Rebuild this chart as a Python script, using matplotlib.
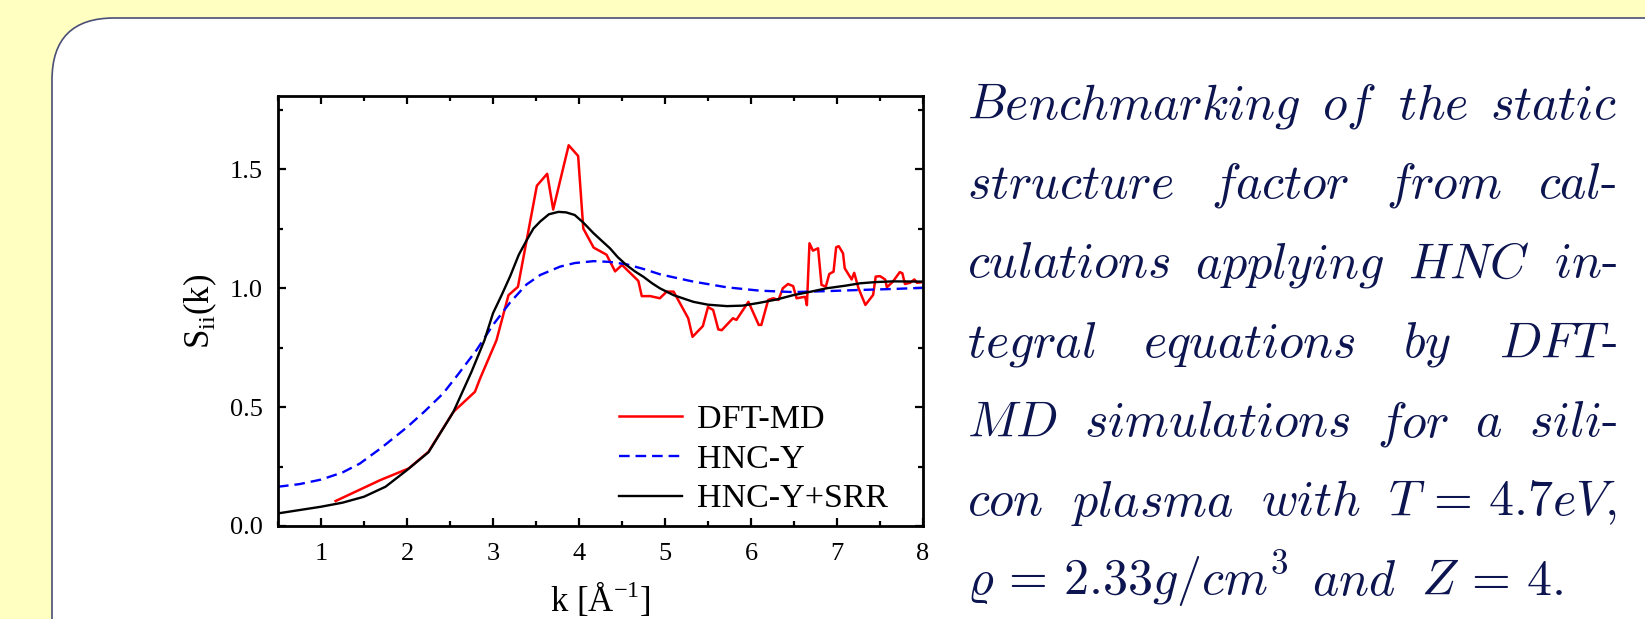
import matplotlib
matplotlib.use('Agg')
import matplotlib.pyplot as plt
from matplotlib.patches import FancyBboxPatch
from matplotlib.transforms import IdentityTransform
from matplotlib.ticker import MultipleLocator, FormatStrFormatter

plt.rcParams['font.family'] = 'Liberation Serif'
plt.rcParams['mathtext.fontset'] = 'custom'
plt.rcParams['mathtext.rm'] = 'Liberation Serif'
plt.rcParams['mathtext.default'] = 'it'

# DFT-MD (red)
k_dft = [1.17, 1.69, 2.02, 2.25, 2.54, 2.79, 2.85, 3.04, 3.18, 3.29, 3.41, 3.51, 3.63, 3.70,
         3.88, 3.99, 4.05, 4.17, 4.32, 4.42, 4.50, 4.69, 4.73, 4.83, 4.94, 5.02, 5.10, 5.27,
         5.32, 5.44, 5.50, 5.56, 5.62, 5.66, 5.79, 5.83, 5.97, 6.09, 6.12, 6.20, 6.26, 6.32,
         6.37, 6.43, 6.49, 6.53, 6.59, 6.63, 6.65, 6.68, 6.72, 6.78, 6.82, 6.87, 6.91, 6.96,
         6.99, 7.02, 7.07, 7.09, 7.17, 7.20, 7.25, 7.33, 7.42, 7.45, 7.50, 7.56, 7.58, 7.65,
         7.73, 7.76, 7.79, 7.85, 7.90, 7.93, 8.00]
s_dft = [0.105, 0.193, 0.242, 0.312, 0.48, 0.564, 0.62, 0.78, 0.97, 1.005, 1.237, 1.43, 1.48, 1.33,
         1.60, 1.555, 1.25, 1.17, 1.14, 1.07, 1.097, 1.03, 0.966, 0.966, 0.957, 0.985, 0.985, 0.873,
         0.795, 0.84, 0.92, 0.908, 0.826, 0.823, 0.873, 0.866, 0.942, 0.845, 0.845, 0.95, 0.957, 0.95,
         0.999, 1.017, 1.008, 0.957, 0.961, 0.963, 0.928, 1.188, 1.157, 1.167, 1.013, 1.006, 1.059, 1.069,
         1.171, 1.176, 1.146, 1.083, 1.036, 1.064, 0.999, 0.929, 0.971, 1.048, 1.050, 1.036, 1.003, 1.027,
         1.067, 1.062, 1.017, 1.022, 1.036, 1.022, 1.025]

# HNC-Y (blue dashed)
k_hnc = [0.5, 0.75, 1.0, 1.25, 1.45, 1.7, 2.0, 2.2, 2.42, 2.6, 2.81, 3.0, 3.2, 3.39, 3.55,
         3.78, 3.95, 4.17, 4.35, 4.55, 4.75, 4.94, 5.1, 5.33, 5.72, 6.1, 6.49, 6.88, 7.27,
         7.65, 8.0]
s_hnc = [0.165, 0.176, 0.195, 0.225, 0.262, 0.328, 0.415, 0.48, 0.557, 0.64, 0.74, 0.845, 0.94, 1.015, 1.055,
         1.09, 1.105, 1.113, 1.11, 1.10, 1.08, 1.058, 1.045, 1.027, 1.003, 0.989, 0.983, 0.987, 0.992,
         0.996, 1.001]

# HNC-Y+SRR (black)
k_srr = [0.5, 1.0, 1.25, 1.5, 1.75, 2.0, 2.25, 2.54, 2.75, 2.9, 3.0, 3.1, 3.2, 3.3, 3.39,
         3.47, 3.55, 3.65, 3.76, 3.85, 3.95, 4.05, 4.17, 4.26, 4.36, 4.45, 4.55, 4.65, 4.75,
         4.85, 4.94, 5.1, 5.33, 5.5, 5.72, 5.9, 6.1, 6.3, 6.49, 6.7, 6.88, 7.1, 7.27, 7.45,
         7.65, 8.0]
s_srr = [0.053, 0.081, 0.098, 0.123, 0.165, 0.235, 0.31, 0.48, 0.648, 0.78, 0.894, 0.97, 1.05, 1.14, 1.20,
         1.25, 1.28, 1.31, 1.32, 1.318, 1.307, 1.275, 1.23, 1.20, 1.167, 1.13, 1.097, 1.07, 1.047,
         1.02, 0.999, 0.97, 0.942, 0.93, 0.924, 0.926, 0.938, 0.952, 0.97, 0.985, 0.999, 1.01, 1.02, 1.025,
         1.028, 1.027]

series_labels = ['DFT-MD', 'HNC-Y', 'HNC-Y+SRR']

caption_lines = [
    ['Benchmarking', 'of', 'the', 'static'],
    ['structure', 'factor', 'from', 'cal-'],
    ['culations', 'applying', 'HNC', 'in-'],
    ['tegral', 'equations', 'by', 'DFT-'],
    ['MD', 'simulations', 'for', 'a', 'sili-'],
    ['con', 'plasma', 'with', r'$T\,=\,4.7eV,$'],
    [r'$\varrho\,=\,2.33g/cm^3$', 'and', r'$Z\,=\,4.$'],
]

text_color = '#0d1550'

fig = plt.figure(figsize=(16.45, 6.19), dpi=100, facecolor='#ffffc2')

box = FancyBboxPatch((52, -300), 2000, 619 - 18 + 300,
                     boxstyle='round,pad=0,rounding_size=62',
                     transform=IdentityTransform(), facecolor='white',
                     edgecolor='#4a4f75', linewidth=1.2, zorder=0)
fig.add_artist(box)

ax = fig.add_axes([278 / 1645, 93 / 619, 645 / 1645, 430 / 619])
ax.plot(k_dft, s_dft, color='#ff0000', lw=1.8, label=series_labels[0])
ax.plot(k_hnc, s_hnc, color='#0000ff', lw=1.7, dashes=(4.5, 2.5), label=series_labels[1])
ax.plot(k_srr, s_srr, color='black', lw=1.7, label=series_labels[2])

ax.set_xlim(0.5, 8)
ax.set_ylim(0, 1.807)
ax.xaxis.set_major_locator(MultipleLocator(1))
ax.xaxis.set_minor_locator(MultipleLocator(0.5))
ax.yaxis.set_major_locator(MultipleLocator(0.5))
ax.yaxis.set_minor_locator(MultipleLocator(0.25))
ax.yaxis.set_major_formatter(FormatStrFormatter('%.1f'))
ax.tick_params(which='both', direction='in', top=True, right=True, width=1.6, labelsize=19)
ax.tick_params(which='major', length=6)
ax.tick_params(which='minor', length=3.5)
ax.tick_params(axis='y', pad=11)
ax.tick_params(axis='x', pad=12)
for sp in ax.spines.values():
    sp.set_linewidth(2)

ax.set_xlabel(r'k [Å$^{\mathregular{-1}}$]', fontsize=25, labelpad=11)
ax.set_ylabel(r'S$_{\mathregular{ii}}$(k)', fontsize=25, labelpad=8)

ax.legend(loc='upper left', bbox_to_anchor=(0.529, 0.283), frameon=False, fontsize=24.5,
          handlelength=1.85, handletextpad=0.45, labelspacing=0.26, borderpad=0, borderaxespad=0)

# justified caption on the right
renderer = fig.canvas.get_renderer()
left, right = 967, 1617
base0, step = 619 - 118.5, 79.4
for i, words in enumerate(caption_lines):
    arts = []
    for w in words:
        s = w if w.startswith('$') else '$' + w.replace('-', r'\text{-}') + '$'
        t = fig.text(0, base0 - i * step, s, transform=IdentityTransform(), fontsize=36,
                     color=text_color, va='baseline', ha='left', math_fontfamily='cm')
        arts.append(t)
    widths = [a.get_window_extent(renderer).width for a in arts]
    if i < len(caption_lines) - 1:
        gap = (right - left - sum(widths)) / (len(arts) - 1)
    else:
        gap = 24
    x = left
    for a, wd in zip(arts, widths):
        a.set_x(x)
        x += wd + gap

fig.savefig('out.png', dpi=100, facecolor=fig.get_facecolor())
